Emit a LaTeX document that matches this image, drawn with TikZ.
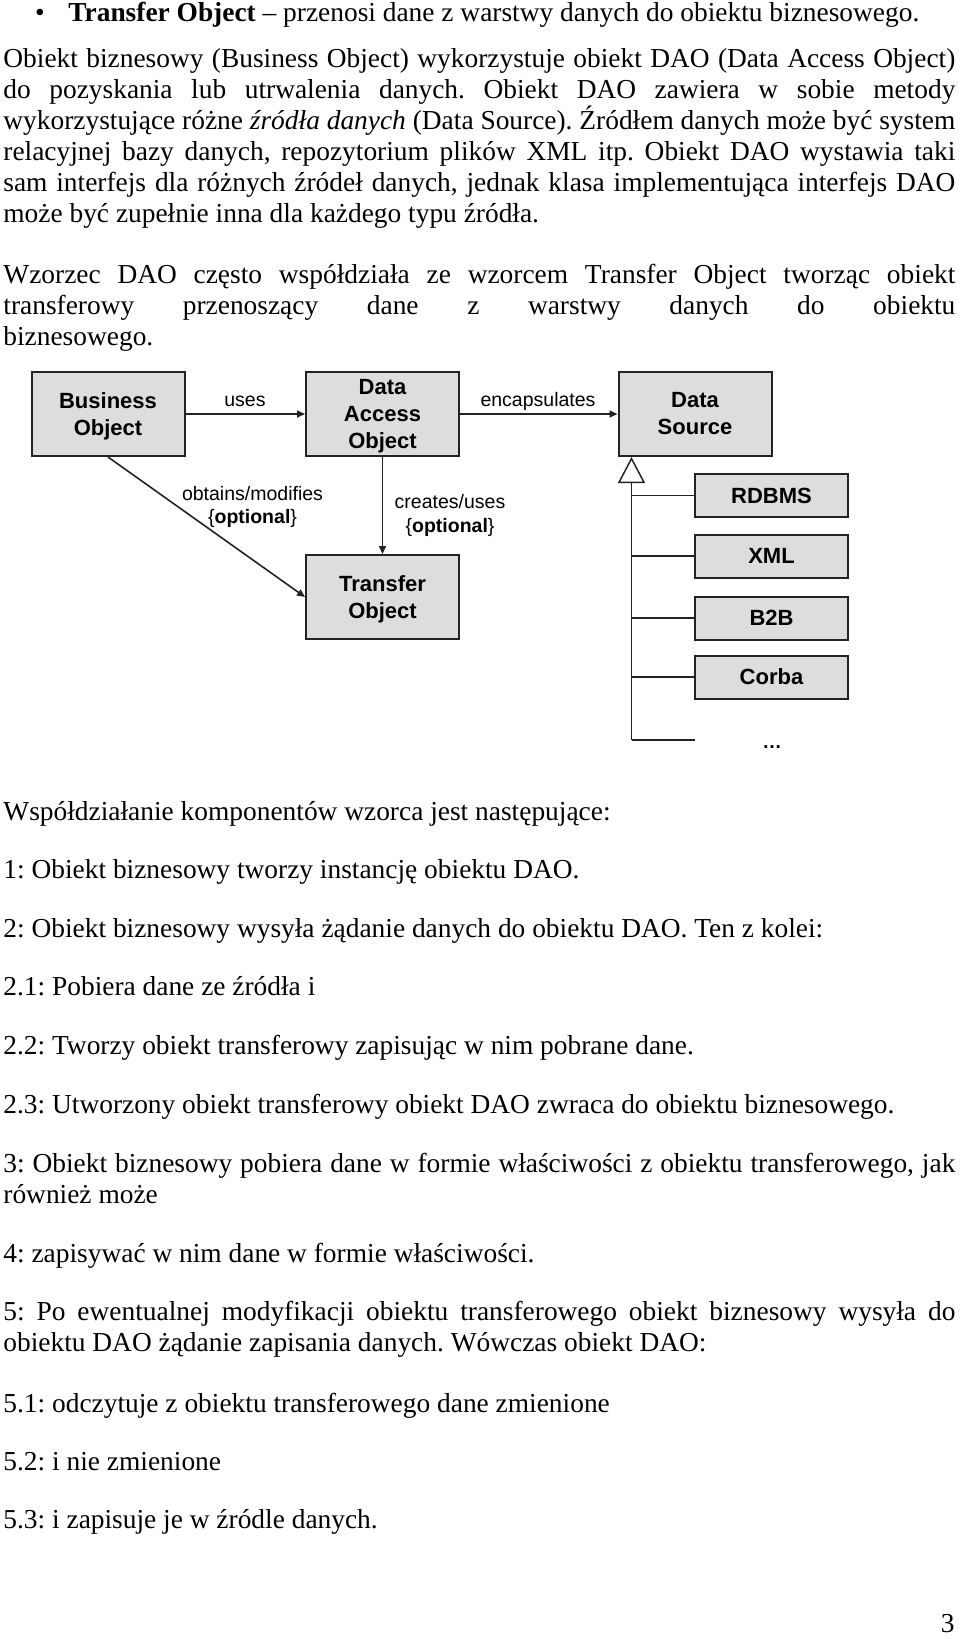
\documentclass[tikz,border=0pt]{standalone}
\usepackage{fontspec}
\setmainfont{Liberation Serif}
\newfontfamily\arial{Liberation Sans}
\usetikzlibrary{arrows.meta,calc}
\definecolor{boxfill}{RGB}{221,221,221}
\definecolor{ink}{RGB}{35,35,35}
\newcommand{\bodyfont}{\fontsize{13.7pt}{16pt}\selectfont\frenchspacing}
\newcommand{\boxfont}{\arial\bfseries\fontsize{11pt}{13.5pt}\selectfont}
\newcommand{\lblfont}{\arial\fontsize{9.75pt}{11.5pt}\selectfont}
\newcommand{\jline}[1]{\makebox[476pt][s]{#1}}
\frenchspacing
\tikzset{
  txt/.style={anchor=base west, inner sep=0pt, font=\bodyfont},
  umlbox/.style={draw=ink, line width=1pt, fill=boxfill, minimum width=76.5pt,
    minimum height=42pt, inner sep=0pt, align=center, font=\boxfont},
  subbox/.style={umlbox, minimum height=21.5pt},
  conn/.style={draw=ink, line width=0.8pt, -{Triangle[length=4pt,width=3.5pt]}},
  gen/.style={draw=ink, line width=0.75pt},
  lbl/.style={anchor=base, inner sep=0pt, font=\lblfont},
}
\begin{document}
\begin{tikzpicture}[x=0.5pt,y=-0.5pt]
\useasboundingbox (0,0) rectangle (960,1639);

% ---- top text ----
\node[anchor=base, inner sep=0pt, font=\bodyfont] (bul) at (40,21.7) {•};
\node[txt] (t0) at (68,21.7) {\textbf{Transfer Object} – przenosi dane z warstwy danych do obiektu biznesowego.};

\node[txt] (p1a) at (3,67) {\jline{Obiekt biznesowy (Business Object) wykorzystuje obiekt DAO (Data Access Object)}};
\node[txt] (p1b) at (3,98) {\jline{do pozyskania lub utrwalenia danych. Obiekt DAO zawiera w sobie metody}};
\node[txt] (p1c) at (3,129) {\jline{wykorzystujące różne \emph{źródła danych} (Data Source). Źródłem danych może być system}};
\node[txt] (p1d) at (3,160) {\jline{relacyjnej bazy danych, repozytorium plików XML itp. Obiekt DAO wystawia taki}};
\node[txt] (p1e) at (3,191) {\jline{sam interfejs dla różnych źródeł danych, jednak klasa implementująca interfejs DAO}};
\node[txt] (p1f) at (3,222) {może być zupełnie inna dla każdego typu źródła.};

\node[txt] (p2a) at (3,283) {\jline{Wzorzec DAO często współdziała ze wzorcem Transfer Object tworząc obiekt}};
\node[txt] (p2b) at (3,314) {\jline{transferowy przenoszący dane z warstwy danych do obiektu}};
\node[txt] (p2c) at (3,345) {biznesowego.};

% ---- diagram ----
\node[umlbox] (BO) at (108,414) {Business\\\smash{Object}};
\node[umlbox] (DAO) at (382.5,414) {Data\\Access\\\smash{Object}};
\node[umlbox] (DS) at (695,414) {Data\\Source};
\node[umlbox] (TO) at (382.5,597) {Transfer\\\smash{Object}};
\node[subbox] (RDBMS) at (771.5,495.5) {RDBMS};
\node[subbox] (XML) at (771.5,556) {XML};
\node[subbox] (B2B) at (771.5,618) {B2B};
\node[subbox] (CORBA) at (771.5,677) {Corba};
\node[lbl, font=\lblfont\bfseries] (dots) at (772,748) {…};

\draw[conn] (BO) -- (DAO);
\draw[conn] (DAO) -- (DS);
\draw[conn] (DAO) -- (TO);
\draw[conn] (BO.south) -- (TO.west);

\node[lbl] (luses) at (245,406) {uses};
\node[lbl] (lenc) at (538,406) {encapsulates};
\node[lbl] (lobt) at (252.5,500) {obtains/modifies};
\node[lbl] (lobt2) at (252.5,523) {\{\textbf{optional}\}};
\node[lbl] (lcre) at (450,508) {creates/uses};
\node[lbl] (lcre2) at (450,532) {\{\textbf{optional}\}};

\coordinate (gapex) at ($(DS.south west)+(14,0)$);
\coordinate (more) at (695,740);
\coordinate (gbot) at (gapex |- more);
\draw[gen, -{Triangle[open, length=13pt, width=13.5pt, line width=0.75pt]}] (gbot) -- (gapex);
\draw[gen] (RDBMS.west) -- (RDBMS.west -| gapex);
\draw[gen] (XML.west) -- (XML.west -| gapex);
\draw[gen] (B2B.west) -- (B2B.west -| gapex);
\draw[gen] (CORBA.west) -- (CORBA.west -| gapex);
\draw[gen] (more) -- (gbot);

% ---- bottom text ----
\node[txt] (s0) at (3,820) {Współdziałanie komponentów wzorca jest następujące:};
\node[txt] (s1) at (3,878) {1: Obiekt biznesowy tworzy instancję obiektu DAO.};
\node[txt] (s2) at (3,937) {2: Obiekt biznesowy wysyła żądanie danych do obiektu DAO. Ten z kolei:};
\node[txt] (s21) at (3,995) {2.1: Pobiera dane ze źródła i};
\node[txt] (s22) at (3,1054) {2.2: Tworzy obiekt transferowy zapisując w nim pobrane dane.};
\node[txt] (s23) at (3,1113) {2.3: Utworzony obiekt transferowy obiekt DAO zwraca do obiektu biznesowego.};
\node[txt] (s3a) at (3,1172) {\jline{3: Obiekt biznesowy pobiera dane w formie właściwości z obiektu transferowego, jak}};
\node[txt] (s3b) at (3,1203) {również może};
\node[txt] (s4) at (3,1262) {4: zapisywać w nim dane w formie właściwości.};
\node[txt] (s5a) at (3,1320) {\jline{5: Po ewentualnej modyfikacji obiektu transferowego obiekt biznesowy wysyła do}};
\node[txt] (s5b) at (3,1351) {obiektu DAO żądanie zapisania danych. Wówczas obiekt DAO:};
\node[txt] (s51) at (3,1412) {5.1: odczytuje z obiektu transferowego dane zmienione};
\node[txt] (s52) at (3,1470) {5.2: i nie zmienione};
\node[txt] (s53) at (3,1528) {5.3: i zapisuje je w źródle danych.};
\node[anchor=base east, inner sep=0pt, font=\bodyfont] (pnum) at (955,1632) {3};
\end{tikzpicture}
\end{document}
